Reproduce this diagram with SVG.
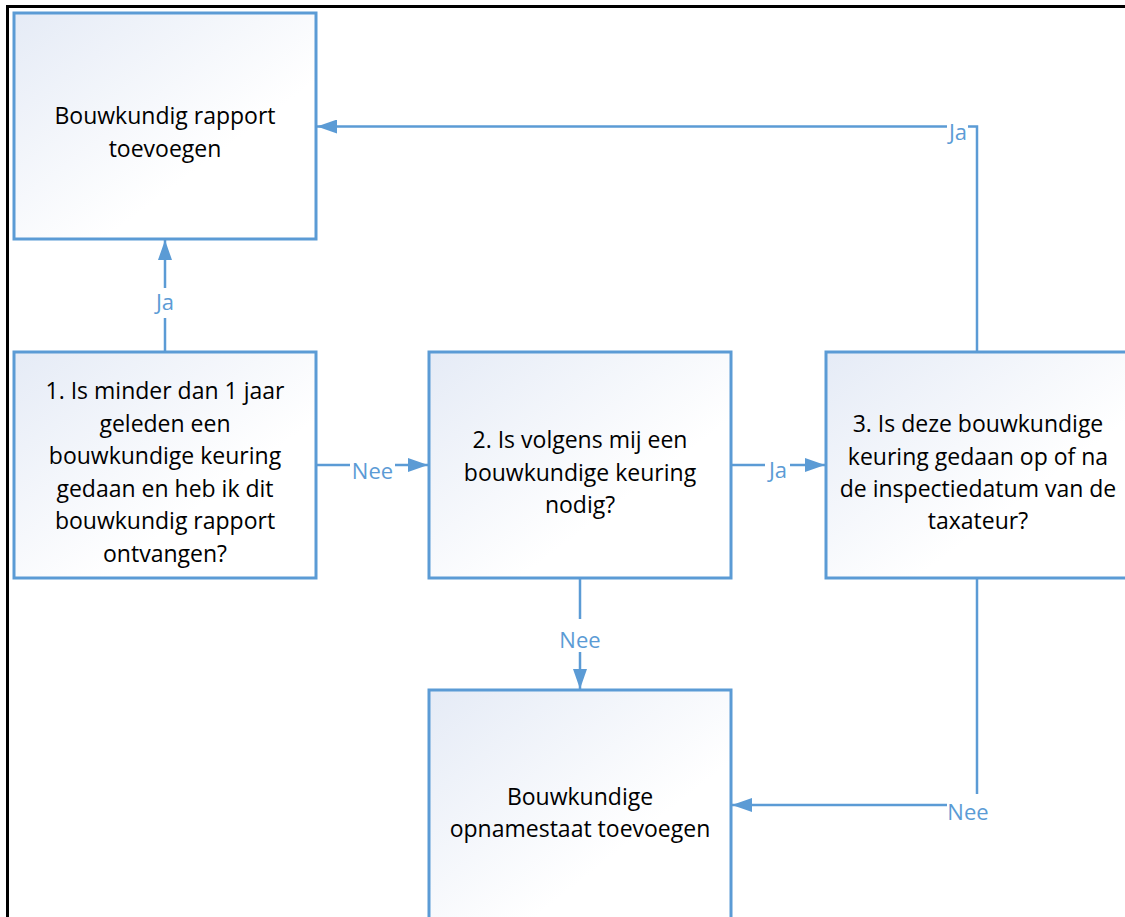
<svg xmlns="http://www.w3.org/2000/svg" width="1125" height="917" viewBox="0 0 1125 917">
<defs>
<linearGradient id="fill" x1="0" y1="0" x2="1" y2="1">
<stop offset="0" stop-color="#e5ebf6"/>
<stop offset="0.65" stop-color="#ffffff"/>
<stop offset="1" stop-color="#ffffff"/>
</linearGradient>
<marker id="arrow" viewBox="0 0 20 14" refX="20" refY="7" markerWidth="20" markerHeight="14" markerUnits="userSpaceOnUse" orient="auto">
<path d="M0,0 L20,7 L0,14 Z" fill="#5b9bd5"/>
</marker>
<style>
.box{fill:url(#fill);stroke:#5b9bd5;stroke-width:3}
.txt{font-family:"Open Sans","Liberation Sans",sans-serif;font-size:23px;fill:#000;text-anchor:middle}
.lbl{font-family:"Open Sans","Liberation Sans",sans-serif;font-size:22px;fill:#5b9bd5;text-anchor:middle}
.con{fill:none;stroke:#5b9bd5;stroke-width:2.5}
</style>
</defs>
<rect width="1125" height="917" fill="#ffffff"/>
<path d="M7.5,917 V6.5 H1125" fill="none" stroke="#000" stroke-width="3"/>

<g id="node-rapport">
<rect class="box" x="14" y="13" width="302" height="226"/>
<text class="txt" x="165" y="124">Bouwkundig rapport</text>
<text class="txt" x="165" y="156.5">toevoegen</text>
</g>

<g id="node-q1">
<rect class="box" x="14" y="352" width="302" height="226"/>
<text class="txt" x="165" y="399">1. Is minder dan 1 jaar</text>
<text class="txt" x="165" y="431.5">geleden een</text>
<text class="txt" x="165" y="464">bouwkundige keuring</text>
<text class="txt" x="165" y="496.5">gedaan en heb ik dit</text>
<text class="txt" x="165" y="529">bouwkundig rapport</text>
<text class="txt" x="165" y="561.5">ontvangen?</text>
</g>

<g id="node-q2">
<rect class="box" x="429" y="352" width="302" height="226"/>
<text class="txt" x="580" y="448">2. Is volgens mij een</text>
<text class="txt" x="580" y="480.5">bouwkundige keuring</text>
<text class="txt" x="580" y="513">nodig?</text>
</g>

<g id="node-q3">
<rect class="box" x="826" y="352" width="303" height="226"/>
<text class="txt" x="978" y="432">3. Is deze bouwkundige</text>
<text class="txt" x="978" y="464.5">keuring gedaan op of na</text>
<text class="txt" x="978" y="497">de inspectiedatum van de</text>
<text class="txt" x="978" y="529">taxateur?</text>
</g>

<g id="node-opname">
<rect class="box" x="429" y="690" width="302" height="240"/>
<text class="txt" x="580" y="805">Bouwkundige</text>
<text class="txt" x="580" y="837">opnamestaat toevoegen</text>
</g>

<g id="connectors">
<path class="con" d="M165,352 V318"/>
<path class="con" d="M165,288 V240" marker-end="url(#arrow)"/>
<text class="lbl" x="165" y="310">Ja</text>

<path class="con" d="M316,465 H350"/>
<path class="con" d="M395,465 H428" marker-end="url(#arrow)"/>
<text class="lbl" x="372.5" y="479">Nee</text>

<path class="con" d="M731,465 H765"/>
<path class="con" d="M790,465 H825" marker-end="url(#arrow)"/>
<text class="lbl" x="778" y="478">Ja</text>

<path class="con" d="M580,578 V619"/>
<path class="con" d="M580,652 V689" marker-end="url(#arrow)"/>
<text class="lbl" x="580" y="648">Nee</text>

<path class="con" d="M977,352 V126.5 H968"/>
<path class="con" d="M947,126.5 H317" marker-end="url(#arrow)"/>
<text class="lbl" x="958" y="140">Ja</text>

<path class="con" d="M977,578 V794"/>
<path class="con" d="M947,805 H732" marker-end="url(#arrow)"/>
<text class="lbl" x="968" y="820">Nee</text>
</g>
</svg>
